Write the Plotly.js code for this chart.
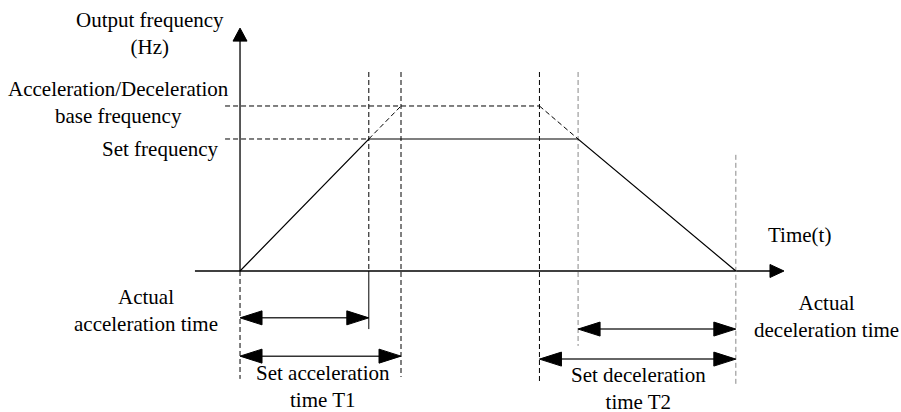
<!DOCTYPE html>
<html>
<head>
<meta charset="utf-8">
<script src="https://cdn.plot.ly/plotly-3.0.1.min.js"></script>
<style>
  html, body { margin: 0; padding: 0; background: #fff; }
  #myDiv { width: 901px; height: 412px; }
</style>
</head>
<body>
<div id="myDiv"></div>
<script>
// frequency levels (Hz) and time marks (s) of the curve
var setFreq = 40;
var baseFreq = 50;
var outTime = [0, 8, 21, 30.8];
var outFreq = [0, setFreq, setFreq, 0];
var accelRefTime = [8, 10];
var accelRefFreq = [setFreq, baseFreq];
var decelRefTime = [18.6, 21];
var decelRefFreq = [baseFreq, setFreq];

// dimension arrows: [start, end, level]
var dimArrows = [
  [0, 8, -14.2],      // actual acceleration time
  [0, 10, -25.8],     // set acceleration time T1
  [21, 30.8, -17.6],  // actual deceleration time
  [18.6, 30.8, -26.7] // set deceleration time T2
];

// guide lines: [time, fromFreq, toFreq, colour]
var guides = [
  [0, 0, -32.7, '#000'],
  [8, 60.3, 0, '#000'],
  [10, 60.3, -32.1, '#000'],
  [18.6, 60.3, -34.2, '#000'],
  [21, 60.3, -22.7, '#888'],
  [30.8, 35.2, -34.8, '#888']
];

var labels = [
  ['Output frequency<br>(Hz)', -5.59, 71.97, 'center'],
  ['Acceleration/Deceleration<br>base frequency', -7.52, 51.06, 'center'],
  ['Set frequency', -1.24, 36.97, 'right'],
  ['Time(t)', 34.78, 10.9, 'center'],
  ['Actual<br>acceleration time', -5.84, -12.12, 'center'],
  ['Set acceleration<br>time T1', 5.16, -34.85, 'center'],
  ['Actual<br>deceleration time', 36.46, -13.94, 'center'],
  ['Set deceleration<br>time T2', 24.78, -35.6, 'center']
];

/**************************************************************/
var W = 901, H = 412;
var xRange = [-14.91, 41.06];
var yRange = [-42.73, 82.12];
var pxT = W / (xRange[1] - xRange[0]);
var pxF = H / (yRange[1] - yRange[0]);

function line(xs, ys, color, dash, width) {
  return { x: xs, y: ys, type: 'scatter', mode: 'lines', hoverinfo: 'skip',
           line: { color: color, width: width || 1, dash: dash || 'solid' } };
}

// filled triangle, tip at (tx,ty), dir 'l','r','u'
function head(tx, ty, dir, len, half, color) {
  var xs, ys;
  if (dir == 'u') {
    xs = [tx, tx - half / pxT, tx + half / pxT, tx];
    ys = [ty, ty - len / pxF, ty - len / pxF, ty];
  } else {
    var s = (dir == 'r') ? -1 : 1;
    xs = [tx, tx + s * len / pxT, tx + s * len / pxT, tx];
    ys = [ty, ty + half / pxF, ty - half / pxF, ty];
  }
  return { x: xs, y: ys, type: 'scatter', mode: 'lines', fill: 'toself',
           fillcolor: color, hoverinfo: 'skip', line: { color: color, width: 1 } };
}

var data = [];
var dsh = '5px,3px';

// axes
var xEnd = 33.79, yEnd = 73.6;
data.push(line([-2.8, xEnd - 10 / pxT], [0, 0], '#000', 'solid', 1.3));
data.push(line([0, 0], [0, yEnd - 10 / pxF], '#000', 'solid', 1.3));
data.push(head(xEnd, 0, 'r', 14, 6.5, '#000'));
data.push(head(0, yEnd, 'u', 13, 7, '#000'));

// guides
guides.forEach(function(g) {
  data.push(line([g[0], g[0]], [g[1], g[2]], g[3], dsh, 1));
});
data.push(line([8, 8], [0, -17.6], '#000', 'solid', 1));
data.push(line([-0.93, 8], [setFreq, setFreq], '#000', dsh, 1));
data.push(line([-0.93, 18.6], [baseFreq, baseFreq], '#000', dsh, 1));
data.push(line(accelRefTime, accelRefFreq, '#000', dsh, 1));
data.push(line(decelRefTime, decelRefFreq, '#000', dsh, 1));

// output curve
data.push(line(outTime, outFreq, '#000', 'solid', 1.2));

// dimension arrows
dimArrows.forEach(function(a) {
  data.push(line([a[0] + 15 / pxT, a[1] - 15 / pxT], [a[2], a[2]], '#333', 'solid', 1.5));
  data.push(head(a[0], a[2], 'l', 22, 7, '#000'));
  data.push(head(a[1], a[2], 'r', 22, 7, '#000'));
});

var annotations = labels.map(function(l) {
  return { text: l[0], x: l[1], y: l[2], xref: 'x', yref: 'y',
           showarrow: false, xanchor: l[3], yanchor: 'middle', align: 'center',
           borderpad: 0,
           font: { family: 'Liberation Serif', size: 21, color: '#000' } };
});

var layout = {
  width: W, height: H,
  margin: { l: 0, r: 0, t: 0, b: 0 },
  paper_bgcolor: '#fff', plot_bgcolor: '#fff',
  showlegend: false,
  xaxis: { range: xRange, visible: false, fixedrange: true },
  yaxis: { range: yRange, visible: false, fixedrange: true },
  annotations: annotations
};

Plotly.newPlot('myDiv', data, layout, { displayModeBar: false, staticPlot: true });
</script>
</body>
</html>
